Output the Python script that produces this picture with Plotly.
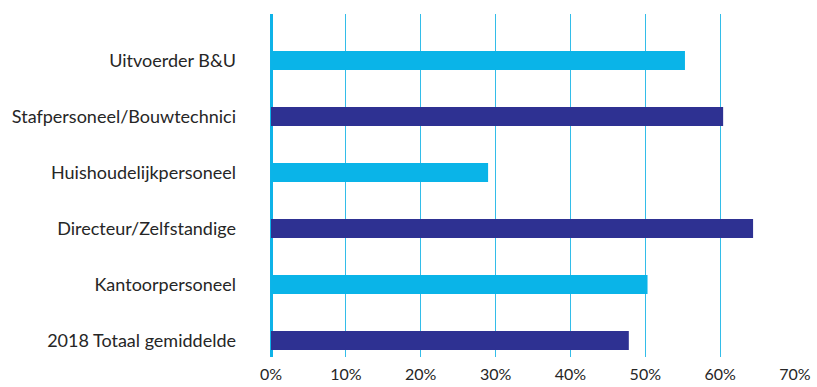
import plotly.graph_objects as go

# Beroepsgroepen, van boven naar beneden
categories = [
    "Uitvoerder B&U",
    "Stafpersoneel/Bouwtechnici",
    "Huishoudelijkpersoneel",
    "Directeur/Zelfstandige",
    "Kantoorpersoneel",
    "2018 Totaal gemiddelde",
]
# Aandeel per beroepsgroep (fractie)
values = [0.553, 0.604, 0.290, 0.644, 0.503, 0.478]
# Kleur per balk: afwisselend licht- en donkerblauw
bar_colors = ["#0ab4e8", "#2e3192", "#0ab4e8", "#2e3192", "#0ab4e8", "#2e3192"]

x_ticks = [0, 0.1, 0.2, 0.3, 0.4, 0.5, 0.6, 0.7]
x_tick_labels = ["0%", "10%", "20%", "30%", "40%", "50%", "60%", "70%"]

FONT = "Lato"
TEXT = "#262626"

fig = go.Figure(
    go.Bar(
        y=categories,
        x=values,
        orientation="h",
        marker=dict(color=bar_colors, line=dict(width=0)),
        hoverinfo="x+y",
    )
)

fig.update_layout(
    width=817,
    height=387,
    margin=dict(l=271, r=22, t=14, b=30, autoexpand=False),
    paper_bgcolor="white",
    plot_bgcolor="white",
    showlegend=False,
    bargap=0.66,
    font=dict(family=FONT, color=TEXT, size=17),
)

fig.update_xaxes(
    range=[0, 0.7],
    tickvals=x_ticks,
    ticktext=x_tick_labels,
    showgrid=True,
    gridcolor="#33bde9",
    gridwidth=1,
    zeroline=True,
    zerolinecolor="#0fb3e8",
    zerolinewidth=2.5,
    showline=False,
    ticks="",
    ticklabelstandoff=6,
    tickfont=dict(family=FONT, size=16, color=TEXT),
    fixedrange=True,
)

fig.update_yaxes(
    type="category",
    categoryorder="array",
    categoryarray=categories,
    range=[5.295, -0.83],
    showgrid=False,
    zeroline=False,
    showline=False,
    ticks="",
    ticklabelstandoff=34,
    tickfont=dict(family=FONT, size=18, color=TEXT),
    fixedrange=True,
)

fig.write_html("out.html")
